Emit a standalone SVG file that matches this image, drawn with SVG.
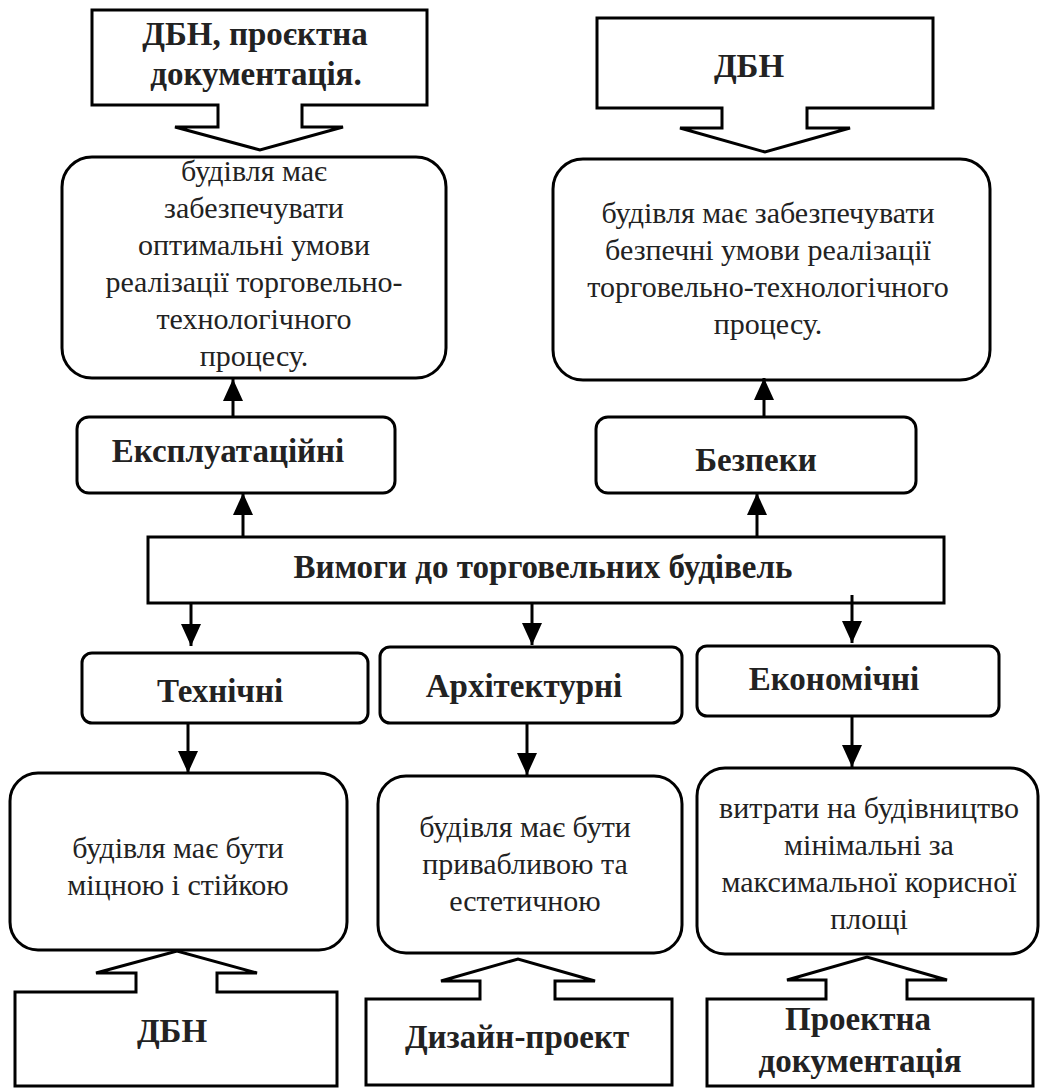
<svg xmlns="http://www.w3.org/2000/svg" width="1041" height="1088" viewBox="0 0 1041 1088">
<style>
  .shape{fill:#fff;stroke:#000;stroke-width:3;stroke-linejoin:miter}
  .t{font-family:'Liberation Serif','Times New Roman','DejaVu Serif',serif;font-size:30px;fill:#222;text-anchor:middle}
  .b{font-family:'Liberation Serif','Times New Roman','DejaVu Serif',serif;font-size:33px;font-weight:bold;fill:#222;text-anchor:middle}
  .conn{stroke:#000;stroke-width:3;fill:none}
</style>
<defs>
  <marker id="ah" markerUnits="userSpaceOnUse" markerWidth="22" markerHeight="20" refX="22" refY="10" orient="auto" viewBox="0 0 22 20">
    <path d="M0,0 L22,10 L0,20 Z" fill="#000"/>
  </marker>
</defs>
<rect width="1041" height="1088" fill="#fff"/>

<g id="src-top-left">
  <path class="shape" d="M92,10 H427 V105 H302 V127 H343 L260,150 L175,127 H218 V105 H92 Z"/>
  <text class="b" x="255" y="45" font-family="Liberation Serif, serif">ДБН, проєктна</text>
  <text class="b" x="256" y="85">документація.</text>
</g>
<g id="src-top-right">
  <path class="shape" d="M597,18 H933 V108 H807 V128 H850 L765,152 L680,128 H722 V108 H597 Z"/>
  <text class="b" x="749" y="77">ДБН</text>
</g>

<g id="desc-operational">
  <rect class="shape" x="62" y="157" width="384" height="221" rx="30"/>
  <text class="t" x="254" y="181">будівля має</text>
  <text class="t" x="254" y="218">забезпечувати</text>
  <text class="t" x="254" y="255">оптимальні умови</text>
  <text class="t" x="254" y="292">реалізації торговельно-</text>
  <text class="t" x="254" y="329">технологічного</text>
  <text class="t" x="254" y="366">процесу.</text>
</g>
<g id="desc-safety">
  <rect class="shape" x="553" y="159" width="437" height="221" rx="30"/>
  <text class="t" x="768" y="223">будівля має забезпечувати</text>
  <text class="t" x="768" y="260">безпечні умови реалізації</text>
  <text class="t" x="768" y="297">торговельно-технологічного</text>
  <text class="t" x="768" y="334">процесу.</text>
</g>

<g id="operational">
  <rect class="shape" x="77" y="417" width="318" height="76" rx="12"/>
  <text class="b" x="228" y="462">Експлуатаційні</text>
</g>
<g id="safety">
  <rect class="shape" x="596" y="417" width="320" height="76" rx="12"/>
  <text class="b" x="756" y="471">Безпеки</text>
</g>

<g id="requirements">
  <rect class="shape" x="148" y="537" width="796" height="66"/>
  <text class="b" x="543" y="578">Вимоги до торговельних будівель</text>
</g>

<g id="technical">
  <rect class="shape" x="82" y="653" width="286" height="70" rx="10"/>
  <text class="b" x="220" y="702">Технічні</text>
</g>
<g id="architectural">
  <rect class="shape" x="380" y="647" width="302" height="76" rx="10"/>
  <text class="b" x="524" y="697">Архітектурні</text>
</g>
<g id="economic">
  <rect class="shape" x="697" y="646" width="302" height="70" rx="10"/>
  <text class="b" x="834" y="690">Економічні</text>
</g>

<g id="desc-technical">
  <rect class="shape" x="10" y="773" width="337" height="177" rx="28"/>
  <text class="t" x="178" y="858">будівля має бути</text>
  <text class="t" x="178" y="895">міцною і стійкою</text>
</g>
<g id="desc-architectural">
  <rect class="shape" x="378" y="776" width="304" height="177" rx="28"/>
  <text class="t" x="525" y="837">будівля має бути</text>
  <text class="t" x="525" y="874">привабливою та</text>
  <text class="t" x="525" y="911">естетичною</text>
</g>
<g id="desc-economic">
  <rect class="shape" x="697" y="768" width="341" height="186" rx="28"/>
  <text class="t" x="869" y="818">витрати на будівництво</text>
  <text class="t" x="869" y="855">мінімальні за</text>
  <text class="t" x="869" y="892">максимальної корисної</text>
  <text class="t" x="869" y="929">площі</text>
</g>

<g id="src-bottom-left">
  <path class="shape" d="M15,1086 V992 H136 V973 H96 L177,951 L257,973 H217 V992 H337 V1086 Z"/>
  <text class="b" x="172" y="1042">ДБН</text>
</g>
<g id="src-bottom-middle">
  <path class="shape" d="M366,1085 V999 H480 V981 H441 L518,959 L595,981 H555 V999 H672 V1085 Z"/>
  <text class="b" x="517" y="1048">Дизайн-проект</text>
</g>
<g id="src-bottom-right">
  <path class="shape" d="M707,1086 V999 H826 V980 H787 L867,957 L947,980 H907 V999 H1033 V1086 Z"/>
  <text class="b" x="858" y="1030">Проектна</text>
  <text class="b" x="860" y="1072">документація</text>
</g>

<g id="connectors">
  <line class="conn" x1="233" y1="417" x2="233" y2="379" marker-end="url(#ah)"/>
  <line class="conn" x1="243" y1="537" x2="243" y2="493" marker-end="url(#ah)"/>
  <line class="conn" x1="764" y1="417" x2="764" y2="378" marker-end="url(#ah)"/>
  <line class="conn" x1="757" y1="537" x2="757" y2="493" marker-end="url(#ah)"/>
  <line class="conn" x1="191" y1="603" x2="191" y2="646" marker-end="url(#ah)"/>
  <line class="conn" x1="532" y1="603" x2="532" y2="645" marker-end="url(#ah)"/>
  <line class="conn" x1="852" y1="595" x2="852" y2="643" marker-end="url(#ah)"/>
  <line class="conn" x1="188" y1="723" x2="188" y2="773" marker-end="url(#ah)"/>
  <line class="conn" x1="527" y1="723" x2="527" y2="775" marker-end="url(#ah)"/>
  <line class="conn" x1="852" y1="716" x2="852" y2="767" marker-end="url(#ah)"/>
</g>
</svg>
